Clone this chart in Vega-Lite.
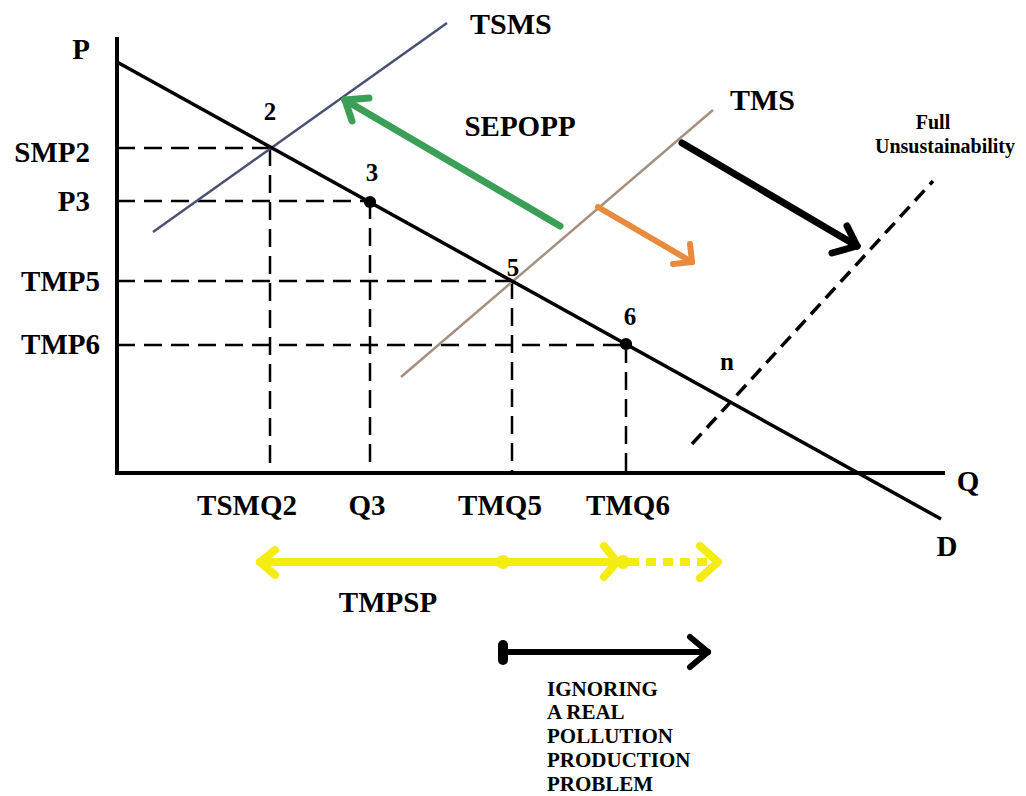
{
  "$schema": "https://vega.github.io/schema/vega-lite/v6.json",
  "width": 1026,
  "height": 796,
  "padding": 0,
  "autosize": {"type": "fit", "contains": "padding"},
  "background": "white",
  "config": {"view": {"stroke": null}},
  "datasets": {
    "segments": [
      {"kind": "guide", "x": 0, "y": 32.5, "x2": 15.3, "y2": 32.5},
      {"kind": "guide", "x": 15.3, "y": 32.5, "x2": 15.3, "y2": 0},
      {"kind": "guide", "x": 0, "y": 27.2, "x2": 25.3, "y2": 27.2},
      {"kind": "guide", "x": 25.3, "y": 27.2, "x2": 25.3, "y2": 0},
      {"kind": "guide", "x": 0, "y": 19.2, "x2": 39.5, "y2": 19.2},
      {"kind": "guide", "x": 39.5, "y": 19.2, "x2": 39.5, "y2": 0},
      {"kind": "guide", "x": 0, "y": 12.8, "x2": 50.9, "y2": 12.8},
      {"kind": "guide", "x": 50.9, "y": 12.8, "x2": 50.9, "y2": 0},
      {"kind": "frontier", "x": 57.5, "y": 2.9, "x2": 81.6, "y2": 29.2},
      {"kind": "axis", "x": 0, "y": -0.1, "x2": 0, "y2": 43.6},
      {"kind": "axis", "x": -0.2, "y": 0, "x2": 82.8, "y2": 0},
      {"kind": "demand", "x": 0, "y": 41.1, "x2": 82.4, "y2": -4.6},
      {"kind": "tsms", "x": 3.6, "y": 24.1, "x2": 33.0, "y2": 45.0},
      {"kind": "tms", "x": 28.4, "y": 9.6, "x2": 59.6, "y2": 36.3},
      {"kind": "green", "x": 44.3, "y": 24.7, "x2": 22.8, "y2": 37.3},
      {"kind": "green", "x": 22.8, "y": 37.3, "x2": 25.2, "y2": 37.5},
      {"kind": "green", "x": 22.8, "y": 37.3, "x2": 23.5, "y2": 35.2},
      {"kind": "orange", "x": 48.1, "y": 26.6, "x2": 57.5, "y2": 21.1},
      {"kind": "orange", "x": 57.5, "y": 21.1, "x2": 57.3, "y2": 22.9},
      {"kind": "orange", "x": 57.5, "y": 21.1, "x2": 55.6, "y2": 20.9},
      {"kind": "shift", "x": 56.5, "y": 33.0, "x2": 74.0, "y2": 22.7},
      {"kind": "shift", "x": 74.0, "y": 22.7, "x2": 73.0, "y2": 24.7},
      {"kind": "shift", "x": 74.0, "y": 22.7, "x2": 71.5, "y2": 22.0},
      {"kind": "yellow", "x": 14.3, "y": -8.9, "x2": 50.0, "y2": -8.9},
      {"kind": "yellow", "x": 14.3, "y": -8.9, "x2": 15.8, "y2": -7.7},
      {"kind": "yellow", "x": 14.3, "y": -8.9, "x2": 15.8, "y2": -10.2},
      {"kind": "yellow", "x": 50.0, "y": -8.9, "x2": 48.7, "y2": -7.3},
      {"kind": "yellow", "x": 50.0, "y": -8.9, "x2": 48.7, "y2": -10.4},
      {"kind": "yellow", "x": 60.1, "y": -8.9, "x2": 58.3, "y2": -7.3},
      {"kind": "yellow", "x": 60.1, "y": -8.9, "x2": 58.3, "y2": -10.5},
      {"kind": "yellowdash", "x": 51.2, "y": -8.9, "x2": 59.8, "y2": -8.9},
      {"kind": "ignore", "x": 38.6, "y": -17.9, "x2": 59.1, "y2": -17.9},
      {"kind": "ignore", "x": 59.1, "y": -17.9, "x2": 57.3, "y2": -16.4},
      {"kind": "ignore", "x": 59.1, "y": -17.9, "x2": 57.3, "y2": -19.4},
      {"kind": "blob", "x": 38.6, "y": -17.2, "x2": 38.6, "y2": -18.7}
    ],
    "dots": [
      {"kind": "eq", "x": 25.3, "y": 27.1},
      {"kind": "eq", "x": 50.9, "y": 12.9},
      {"kind": "yellow", "x": 38.6, "y": -8.9},
      {"kind": "yellow", "x": 50.6, "y": -8.9}
    ],
    "labels": [
      {"role": "price", "text": "P", "x": -2.7, "y": 42.3},
      {"role": "price", "text": "SMP2", "x": -2.7, "y": 32.0},
      {"role": "price", "text": "P3", "x": -2.7, "y": 27.1},
      {"role": "price", "text": "TMP5", "x": -1.7, "y": 19.1},
      {"role": "price", "text": "TMP6", "x": -1.7, "y": 12.8},
      {"role": "tag", "text": "TSMQ2", "x": 13.0, "y": -3.3},
      {"role": "tag", "text": "Q3", "x": 25.0, "y": -3.3},
      {"role": "tag", "text": "TMQ5", "x": 38.3, "y": -3.3},
      {"role": "tag", "text": "TMQ6", "x": 51.1, "y": -3.3},
      {"role": "tag", "text": "Q", "x": 85.1, "y": -0.9},
      {"role": "tag", "text": "D", "x": 83.0, "y": -7.4},
      {"role": "tag", "text": "TMPSP", "x": 27.1, "y": -13.0},
      {"role": "tag", "text": "SEPOPP", "x": 40.3, "y": 34.6},
      {"role": "num", "text": "2", "x": 15.3, "y": 36.1},
      {"role": "num", "text": "3", "x": 25.5, "y": 30.0},
      {"role": "num", "text": "5", "x": 39.6, "y": 20.5},
      {"role": "num", "text": "6", "x": 51.3, "y": 15.6},
      {"role": "num", "text": "n", "x": 61.0, "y": 11.1},
      {"role": "curve", "text": "TSMS", "x": 35.3, "y": 44.8},
      {"role": "curve", "text": "TMS", "x": 61.3, "y": 37.2},
      {"role": "note", "text": "Full", "x": 81.6, "y": 35.0},
      {"role": "note", "text": "Unsustainability", "x": 82.8, "y": 32.6},
      {"role": "ignore", "text": "IGNORING", "x": 43.0, "y": -21.7},
      {"role": "ignore", "text": "A REAL", "x": 43.0, "y": -24.0},
      {"role": "ignore", "text": "POLLUTION", "x": 43.0, "y": -26.4},
      {"role": "ignore", "text": "PRODUCTION", "x": 43.0, "y": -28.8},
      {"role": "ignore", "text": "PROBLEM", "x": 43.0, "y": -31.2}
    ]
  },
  "encoding": {
    "x": {"field": "x", "type": "quantitative", "axis": null, "scale": {"domain": [-11.7, 90.9], "nice": false, "zero": false}},
    "y": {"field": "y", "type": "quantitative", "axis": null, "scale": {"domain": [-32.3, 47.3], "nice": false, "zero": false}}
  },
  "layer": [
    {"data": {"name": "segments"}, "transform": [{"filter": "datum.kind === 'guide'"}],
     "mark": {"type": "rule", "color": "black", "strokeWidth": 2.5, "strokeDash": [18, 9]},
     "encoding": {"x2": {"field": "x2"}, "y2": {"field": "y2"}}},
    {"data": {"name": "segments"}, "transform": [{"filter": "datum.kind === 'frontier'"}],
     "mark": {"type": "rule", "color": "black", "strokeWidth": 3.5, "strokeDash": [14, 8]},
     "encoding": {"x2": {"field": "x2"}, "y2": {"field": "y2"}}},
    {"data": {"name": "segments"}, "transform": [{"filter": "datum.kind === 'axis'"}],
     "mark": {"type": "rule", "color": "black", "strokeWidth": 4},
     "encoding": {"x2": {"field": "x2"}, "y2": {"field": "y2"}}},
    {"data": {"name": "segments"}, "transform": [{"filter": "datum.kind === 'tsms'"}],
     "mark": {"type": "rule", "color": "#4a5072", "strokeWidth": 2.5},
     "encoding": {"x2": {"field": "x2"}, "y2": {"field": "y2"}}},
    {"data": {"name": "segments"}, "transform": [{"filter": "datum.kind === 'tms'"}],
     "mark": {"type": "rule", "color": "#a58f80", "strokeWidth": 2.5},
     "encoding": {"x2": {"field": "x2"}, "y2": {"field": "y2"}}},
    {"data": {"name": "segments"}, "transform": [{"filter": "datum.kind === 'demand'"}],
     "mark": {"type": "rule", "color": "black", "strokeWidth": 3.5},
     "encoding": {"x2": {"field": "x2"}, "y2": {"field": "y2"}}},
    {"data": {"name": "segments"}, "transform": [{"filter": "datum.kind === 'green'"}],
     "mark": {"type": "rule", "color": "#3c9f58", "strokeWidth": 7, "strokeCap": "round"},
     "encoding": {"x2": {"field": "x2"}, "y2": {"field": "y2"}}},
    {"data": {"name": "segments"}, "transform": [{"filter": "datum.kind === 'orange'"}],
     "mark": {"type": "rule", "color": "#e98a3c", "strokeWidth": 6, "strokeCap": "round"},
     "encoding": {"x2": {"field": "x2"}, "y2": {"field": "y2"}}},
    {"data": {"name": "segments"}, "transform": [{"filter": "datum.kind === 'shift'"}],
     "mark": {"type": "rule", "color": "black", "strokeWidth": 7, "strokeCap": "round"},
     "encoding": {"x2": {"field": "x2"}, "y2": {"field": "y2"}}},
    {"data": {"name": "segments"}, "transform": [{"filter": "datum.kind === 'yellow'"}],
     "mark": {"type": "rule", "color": "#f4ec12", "strokeWidth": 8, "strokeCap": "round"},
     "encoding": {"x2": {"field": "x2"}, "y2": {"field": "y2"}}},
    {"data": {"name": "segments"}, "transform": [{"filter": "datum.kind === 'yellowdash'"}],
     "mark": {"type": "rule", "color": "#f4ec12", "strokeWidth": 8, "strokeDash": [10, 7]},
     "encoding": {"x2": {"field": "x2"}, "y2": {"field": "y2"}}},
    {"data": {"name": "segments"}, "transform": [{"filter": "datum.kind === 'ignore'"}],
     "mark": {"type": "rule", "color": "black", "strokeWidth": 6, "strokeCap": "round"},
     "encoding": {"x2": {"field": "x2"}, "y2": {"field": "y2"}}},
    {"data": {"name": "segments"}, "transform": [{"filter": "datum.kind === 'blob'"}],
     "mark": {"type": "rule", "color": "black", "strokeWidth": 10, "strokeCap": "round"},
     "encoding": {"x2": {"field": "x2"}, "y2": {"field": "y2"}}},
    {"data": {"name": "dots"}, "transform": [{"filter": "datum.kind === 'yellow'"}],
     "mark": {"type": "point", "filled": true, "shape": "circle", "size": 200, "color": "#f4ec12", "opacity": 1}},
    {"data": {"name": "dots"}, "transform": [{"filter": "datum.kind === 'eq'"}],
     "mark": {"type": "point", "filled": true, "shape": "circle", "size": 150, "color": "black", "opacity": 1}},
    {"data": {"name": "labels"}, "transform": [{"filter": "datum.role === 'price'"}],
     "mark": {"type": "text", "align": "right", "baseline": "middle", "font": "Liberation Serif", "fontWeight": "bold", "fontSize": 29, "color": "black"},
     "encoding": {"text": {"field": "text"}}},
    {"data": {"name": "labels"}, "transform": [{"filter": "datum.role === 'tag'"}],
     "mark": {"type": "text", "align": "center", "baseline": "middle", "font": "Liberation Serif", "fontWeight": "bold", "fontSize": 29, "color": "black"},
     "encoding": {"text": {"field": "text"}}},
    {"data": {"name": "labels"}, "transform": [{"filter": "datum.role === 'num'"}],
     "mark": {"type": "text", "align": "center", "baseline": "middle", "font": "Liberation Serif", "fontWeight": "bold", "fontSize": 25, "color": "black"},
     "encoding": {"text": {"field": "text"}}},
    {"data": {"name": "labels"}, "transform": [{"filter": "datum.role === 'curve'"}],
     "mark": {"type": "text", "align": "left", "baseline": "middle", "font": "Liberation Serif", "fontWeight": "bold", "fontSize": 30, "color": "black"},
     "encoding": {"text": {"field": "text"}}},
    {"data": {"name": "labels"}, "transform": [{"filter": "datum.role === 'note'"}],
     "mark": {"type": "text", "align": "center", "baseline": "middle", "font": "Liberation Serif", "fontWeight": "bold", "fontSize": 20, "color": "black"},
     "encoding": {"text": {"field": "text"}}},
    {"data": {"name": "labels"}, "transform": [{"filter": "datum.role === 'ignore'"}],
     "mark": {"type": "text", "align": "left", "baseline": "middle", "font": "Liberation Serif", "fontWeight": "bold", "fontSize": 21, "color": "black"},
     "encoding": {"text": {"field": "text"}}}
  ]
}
